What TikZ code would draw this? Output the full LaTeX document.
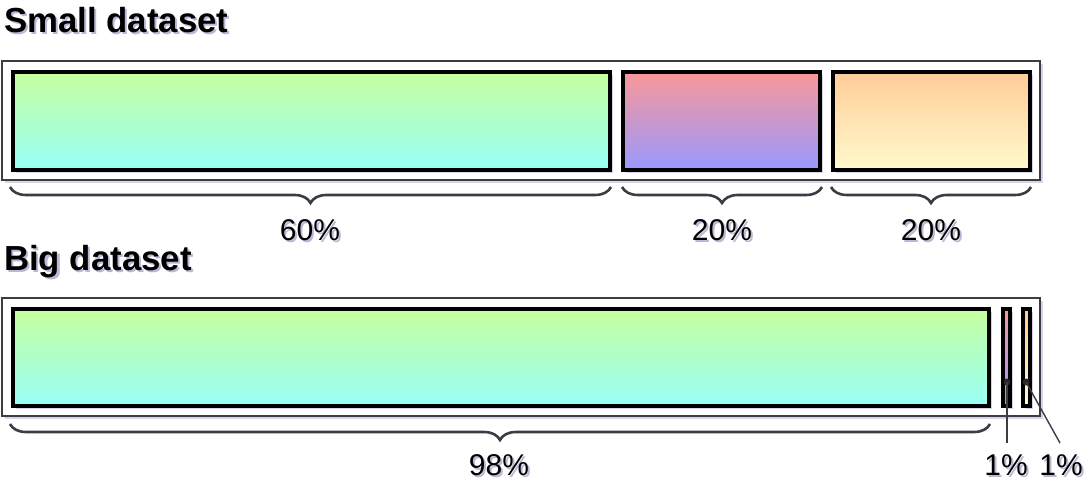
\documentclass[tikz,border=0pt]{standalone}
\usepackage{fontspec}
\setmainfont{Liberation Sans}
\usetikzlibrary{shadows,decorations.pathreplacing}
\definecolor{shc}{RGB}{185,185,215}
\definecolor{edgec}{RGB}{60,60,68}
\definecolor{gtop}{RGB}{198,255,158}
\definecolor{gbot}{RGB}{152,255,248}
\definecolor{ptop}{RGB}{250,152,152}
\definecolor{pbot}{RGB}{152,152,255}
\definecolor{otop}{RGB}{255,204,152}
\definecolor{obot}{RGB}{255,250,205}
\newcommand\shadowed[1]{\leavevmode\rlap{\kern2pt\raisebox{-2pt}{\textcolor{shc}{#1}}}#1}
\tikzset{
  shad/.style={drop shadow={shadow xshift=3pt,shadow yshift=-3pt,fill=shc,opacity=0.6}},
  container/.style={draw=edgec,line width=1.6pt,fill=white,shad,inner sep=0pt,anchor=north west},
  bar/.style={draw=black,line width=3.6pt,shad,inner sep=0pt,anchor=north west},
  green/.style={bar,top color=gtop,bottom color=gbot},
  pink/.style={bar,top color=ptop,bottom color=pbot},
  orange/.style={bar,top color=otop,bottom color=obot},
  title/.style={font=\fontsize{34.8}{38}\selectfont\bfseries,anchor=base west,inner sep=0pt},
  pct/.style={font=\fontsize{30}{33}\selectfont,anchor=base,inner sep=0pt},
  brc/.style={decorate,decoration={brace,mirror,amplitude=16pt,aspect=0.5},draw=edgec,line width=2.6pt},
  lead/.style={draw=edgec,line width=1.4pt},
  dot/.style={circle,fill=black!85,inner sep=0pt,minimum size=7pt}
}
\begin{document}
\begin{tikzpicture}[x=1pt,y=-1pt]
\useasboundingbox (0,0) rectangle (1090,486);
% Small dataset
\node[title] (t1) at (4,33) {\shadowed{Small dataset}};
\node[container,minimum width=1038.4pt,minimum height=119.4pt] (c1) at (1,60) {};
\node[green,minimum width=597.4pt,minimum height=98.4pt] (s1) at (11,70) {};
\node[pink,minimum width=197.4pt,minimum height=98.4pt] (s2) at (621,70) {};
\node[orange,minimum width=197.4pt,minimum height=98.4pt] (s3) at (831,70) {};
\draw[brc] (10,187) -- (611,187);
\draw[brc] (622,187) -- (822,187);
\draw[brc] (831,187) -- (1031,187);
\node[pct] (p1) at (310,241) {\shadowed{60\%}};
\node[pct] (p2) at (722,241) {\shadowed{20\%}};
\node[pct] (p3) at (931,241) {\shadowed{20\%}};
% Big dataset
\node[title] (t2) at (4,271) {\shadowed{Big dataset}};
\node[container,minimum width=1038.4pt,minimum height=118.4pt] (c2) at (1,297) {};
\node[green,minimum width=976.4pt,minimum height=97.4pt] (b1) at (11,307) {};
\node[pink,minimum width=7.4pt,minimum height=97.4pt] (b2) at (1001,307) {};
\node[orange,minimum width=7.4pt,minimum height=97.4pt] (b3) at (1021,307) {};
\draw[brc] (10,424) -- (990,424);
\node[pct] (q1) at (499,475) {\shadowed{98\%}};
\node[pct] (q2) at (1006,475) {\shadowed{1\%}};
\node[pct] (q3) at (1061,475) {\shadowed{1\%}};
\node[dot] (d2) at (1007,382) {};
\node[dot] (d3) at (1026,382) {};
\coordinate (e2) at (1007,443);
\coordinate (e3) at (1060,443);
\draw[lead] (d2.center) -- (e2);
\draw[lead] (d3.center) -- (e3);
\end{tikzpicture}
\end{document}
